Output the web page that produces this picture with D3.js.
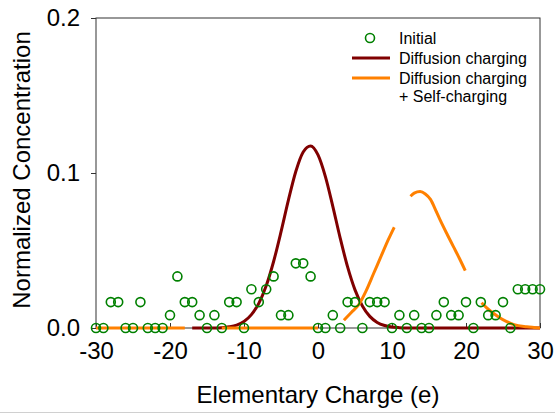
<!DOCTYPE html>
<html>
<head>
<meta charset="utf-8">
<script src="https://cdn.jsdelivr.net/npm/d3@7"></script>
<style>
  html, body { margin: 0; padding: 0; background: #fff; }
  svg { display: block; font-family: Arial, "Liberation Sans", sans-serif; }
</style>
</head>
<body>
<script>
// Initial distribution (open circles), one point per elementary charge
const initialX = d3.range(-30, 31);
const initialY = [
  0, 0, 0.0167, 0.0167, 0, 0, 0.0167, 0, 0, 0,
  0.0083, 0.0333, 0.0167, 0.0167, 0.0083, 0, 0.0083, 0, 0.0167, 0.0167,
  0, 0.025, 0.0167, 0.025, 0.0333, 0.0083, 0.0083, 0.0417, 0.0417, 0.0333,
  0, 0, 0.0083, 0, 0.0167, 0.0167, 0, 0.0167, 0.0167, 0.0167,
  0, 0.0083, 0, 0.0083, 0, 0, 0.0083, 0.0167, 0.0083, 0.0083,
  0.0167, 0, 0.0167, 0.0083, 0.0083, 0.0167, 0, 0.025, 0.025, 0.025, 0.025
];

// Diffusion charging curve
const diffX = d3.range(-17, 31);
const diffY = [
  0, 0, 0, 0, 0.0002, 0.0008, 0.0019, 0.0042, 0.0086, 0.0159,
  0.0272, 0.0429, 0.062, 0.0825, 0.101, 0.1136, 0.1175, 0.1117, 0.0977, 0.0785,
  0.058, 0.0394, 0.0246, 0.0142, 0.0075, 0.0036, 0.0016, 0.0006, 0.0002, 0,
  0, 0, 0, 0, 0, 0, 0, 0, 0, 0,
  0, 0, 0, 0, 0, 0, 0, 0
];

// Diffusion charging + self-charging (null = gap in the line)
const selfX = [
  -30, -25, -20, -18, -17,
  -13, -10, -5, 0, 1,
  3.5, 4.5, 5.5, 6.5, 7.5, 8.5, 9.5, 10.3, 11,
  12.5, 13.0, 13.8, 14.5, 15.2, 16.0, 16.5, 17.5, 18.3, 19.1, 19.9, 21,
  22.1, 22.8, 23.7, 24.5, 25.5, 26.5, 28.2, 30
];
const selfY = [
  0, 0, 0, 0, null,
  0, 0, 0, 0, null,
  0.005, 0.010, 0.015, 0.024, 0.035, 0.046, 0.057, 0.065, null,
  0.085, 0.087, 0.088, 0.0865, 0.083, 0.075, 0.0697, 0.060, 0.0525, 0.045, 0.037, null,
  0.0163, 0.013, 0.0095, 0.0068, 0.0041, 0.0022, 0.0008, 0
];

const xTicks = [-30, -20, -10, 0, 10, 20, 30];
const yTicks = [0, 0.1, 0.2];

const width = 555, height = 414;
const margin = { top: 18, right: 15, bottom: 86, left: 96 };

const svg = d3.select("body").append("svg")
  .attr("width", width)
  .attr("height", height);

const x = d3.scaleLinear().domain([-30, 30]).range([margin.left, width - margin.right]);
const y = d3.scaleLinear().domain([0, 0.2]).range([height - margin.bottom, margin.top]);

// frame
svg.append("rect")
  .attr("x", x(-30)).attr("y", y(0.2))
  .attr("width", x(30) - x(-30)).attr("height", y(0) - y(0.2))
  .attr("fill", "none").attr("stroke", "#333").attr("stroke-width", 1);

// x axis, ticks pointing inward
const xAxis = svg.append("g")
  .attr("transform", `translate(0,${y(0)})`)
  .call(d3.axisBottom(x).tickValues(xTicks).tickSizeInner(-5).tickSizeOuter(0).tickPadding(14)
    .tickFormat(d3.format("d")));
xAxis.select(".domain").remove();
xAxis.selectAll("line").attr("stroke", "#333");
xAxis.selectAll("text").attr("font-size", 24).attr("font-family", "Arial, 'Liberation Sans', sans-serif")
  .attr("fill", "#000").text(d => d < 0 ? "-" + Math.abs(d) : d);

// y axis, ticks pointing outward
const yAxis = svg.append("g")
  .attr("transform", `translate(${x(-30)},0)`)
  .call(d3.axisLeft(y).tickValues(yTicks).tickSizeInner(5).tickSizeOuter(0).tickPadding(11)
    .tickFormat(d3.format(".1f")));
yAxis.select(".domain").remove();
yAxis.selectAll("line").attr("stroke", "#333");
yAxis.selectAll("text").attr("font-size", 24).attr("font-family", "Arial, 'Liberation Sans', sans-serif")
  .attr("fill", "#000");

// axis titles
svg.append("text")
  .attr("x", (x(-30) + x(30)) / 2).attr("y", 403)
  .attr("text-anchor", "middle").attr("font-size", 24)
  .text("Elementary Charge (e)");
svg.append("text")
  .attr("transform", `translate(30,${(y(0) + y(0.2)) / 2 - 3}) rotate(-90)`)
  .attr("text-anchor", "middle").attr("font-size", 24)
  .text("Normalized Concentration");

// curves
const line = d3.line()
  .defined(d => d[1] != null)
  .x(d => x(d[0])).y(d => y(d[1]))
  .curve(d3.curveMonotoneX);

svg.append("path")
  .datum(d3.zip(diffX, diffY))
  .attr("d", line)
  .attr("fill", "none").attr("stroke", "#800000").attr("stroke-width", 3);

svg.append("path")
  .datum(d3.zip(selfX, selfY))
  .attr("d", line)
  .attr("fill", "none").attr("stroke", "#ff8000").attr("stroke-width", 3);

// initial points
svg.append("g")
  .selectAll("circle")
  .data(d3.zip(initialX, initialY))
  .join("circle")
  .attr("cx", d => x(d[0]))
  .attr("cy", d => y(d[1]))
  .attr("r", 4.5)
  .attr("fill", "none")
  .attr("stroke", "#008000")
  .attr("stroke-width", 1.6);

// legend
const lg = svg.append("g").attr("font-size", 16);
lg.append("circle").attr("cx", 370).attr("cy", 38).attr("r", 4.5)
  .attr("fill", "none").attr("stroke", "#008000").attr("stroke-width", 1.6);
lg.append("text").attr("x", 399).attr("y", 43.5).text("Initial");
lg.append("line").attr("x1", 352).attr("x2", 390).attr("y1", 58).attr("y2", 58)
  .attr("stroke", "#800000").attr("stroke-width", 3);
lg.append("text").attr("x", 399).attr("y", 64).text("Diffusion charging");
lg.append("line").attr("x1", 352).attr("x2", 390).attr("y1", 78).attr("y2", 78)
  .attr("stroke", "#ff8000").attr("stroke-width", 3);
lg.append("text").attr("x", 399).attr("y", 84).text("Diffusion charging");
lg.append("text").attr("x", 399).attr("y", 102).text("+ Self-charging");

// bottom border line of the picture
svg.append("line").attr("x1", 0).attr("x2", width).attr("y1", 412.5).attr("y2", 412.5)
  .attr("stroke", "#d0d0d0").attr("stroke-width", 1);
</script>
</body>
</html>
